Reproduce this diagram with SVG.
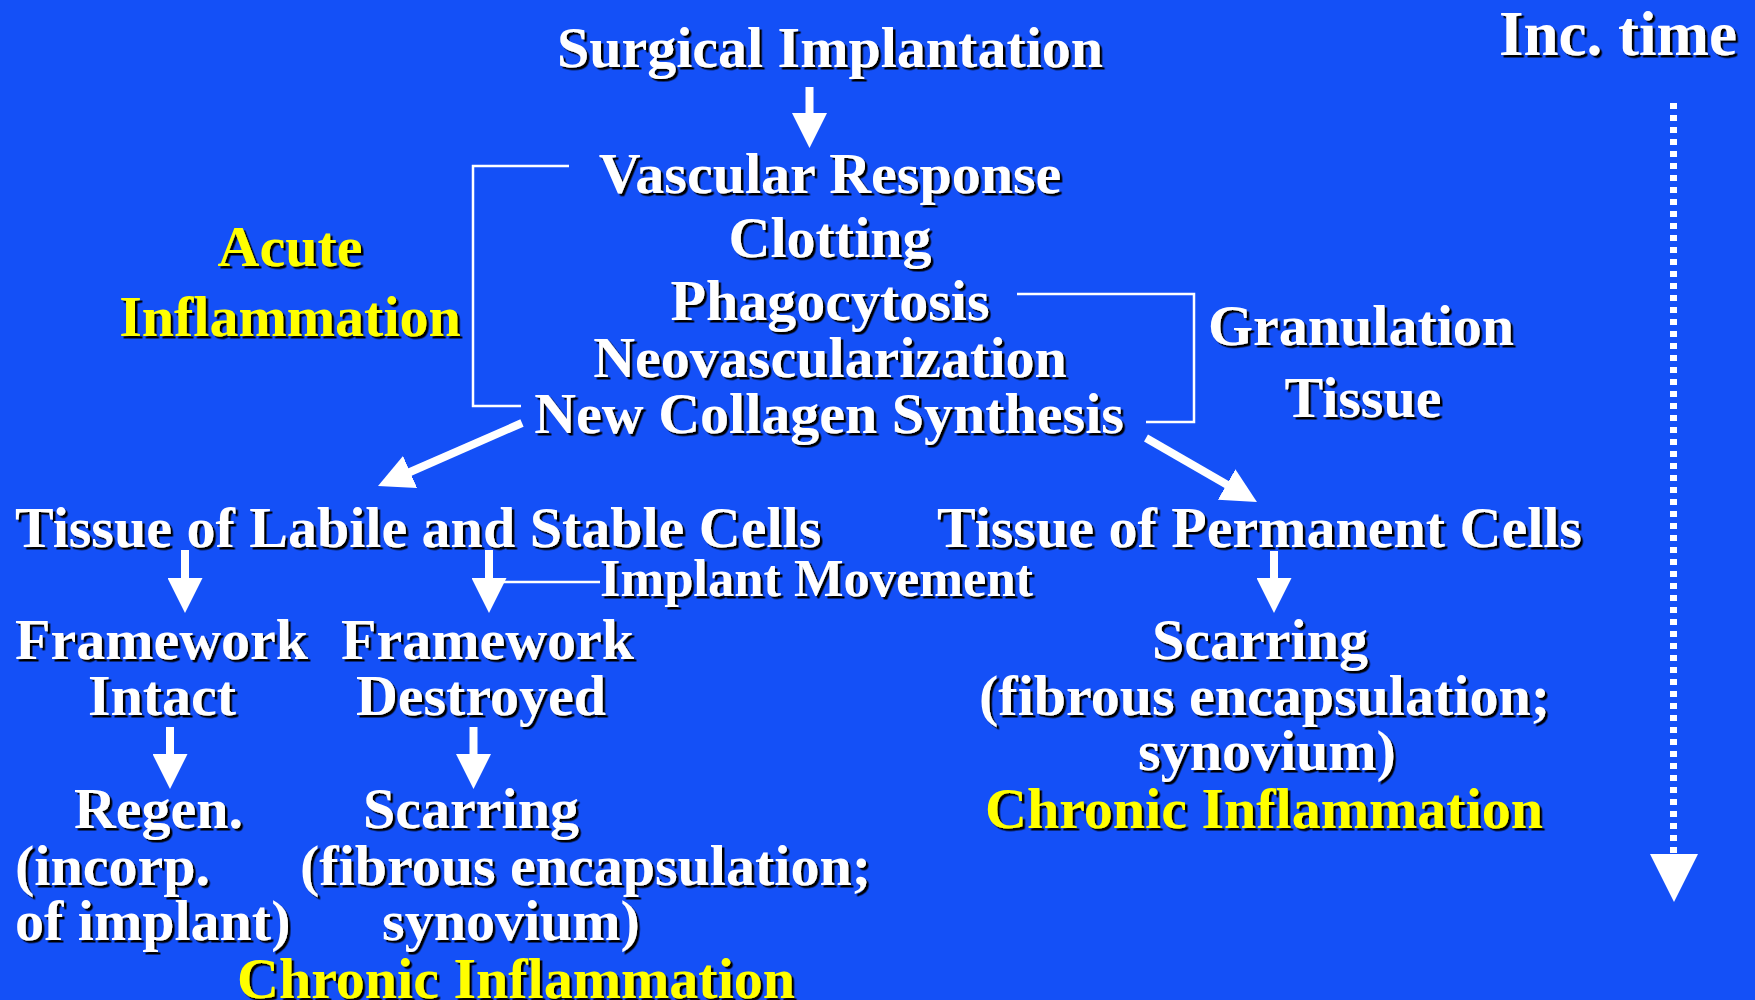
<svg xmlns="http://www.w3.org/2000/svg" width="1755" height="1000" viewBox="0 0 1755 1000">
  <defs>
    <style>
      text { font-family: "Liberation Serif", "Times New Roman", serif; font-weight: bold; font-size: 58px; fill: #ffffff; }
      .y { fill: #ffff00; }
      .c { text-anchor: middle; }
      .lbl { filter: url(#sh); }
      .arrow { stroke: #ffffff; stroke-width: 8; fill: none; marker-end: url(#ah); }
      .br { stroke: #ffffff; stroke-width: 2.5; fill: none; }
    </style>
    <filter id="sh" x="-5%" y="-20%" width="110%" height="140%">
      <feDropShadow dx="2.5" dy="2.5" stdDeviation="0" flood-color="#000000" flood-opacity="1"/>
    </filter>
    <marker id="ah" viewBox="0 0 35 35" markerUnits="userSpaceOnUse" markerWidth="35" markerHeight="35" refX="10" refY="17.5" orient="auto">
      <path d="M0,0 L35,17.5 L0,35 z" fill="#ffffff"/>
    </marker>
  </defs>
  <rect x="0" y="0" width="1755" height="1000" fill="#1450F7"/>

  <g id="connectors">
    <line class="arrow" x1="809.5" y1="87" x2="809.5" y2="123"/>
    <line class="arrow" x1="522" y1="423" x2="400.9" y2="476"/>
    <line class="arrow" x1="1146" y1="438" x2="1235.3" y2="489.5"/>
    <line class="arrow" x1="185" y1="550" x2="185" y2="588"/>
    <line class="arrow" x1="489" y1="550" x2="489" y2="588"/>
    <line class="arrow" x1="1274" y1="551" x2="1274" y2="588"/>
    <line class="arrow" x1="170" y1="727" x2="170" y2="764"/>
    <line class="arrow" x1="473.5" y1="727" x2="473.5" y2="764"/>
    <line class="br" x1="492" y1="582" x2="600" y2="582"/>
    <polyline class="br" points="569,166 473,166 473,406 521,406"/>
    <polyline class="br" points="1017,294 1194,294 1194,422 1146,422"/>
    <line x1="1673.5" y1="103" x2="1673.5" y2="856" stroke="#ffffff" stroke-width="7" stroke-dasharray="6 6"/>
    <polygon points="1650,854 1698,854 1674,902" fill="#ffffff"/>
  </g>

  <g class="lbl">
    <g id="surgical"><text class="c" x="830" y="67">Surgical Implantation</text></g>
    <g id="inc-time"><text x="1499" y="55" style="font-size:63px">Inc. time</text></g>
    <g id="acute-phase">
      <text class="c" x="830" y="193">Vascular Response</text>
      <text class="c" x="830" y="257">Clotting</text>
      <text class="c" x="830" y="320">Phagocytosis</text>
      <text class="c" x="830" y="377">Neovascularization</text>
      <text class="c" x="829" y="433">New Collagen Synthesis</text>
    </g>
    <g id="acute-inflammation">
      <text class="c y" x="290" y="266">Acute</text>
      <text class="c y" x="290" y="336">Inflammation</text>
    </g>
    <g id="granulation-tissue">
      <text class="c" x="1361" y="345">Granulation</text>
      <text class="c" x="1363" y="417">Tissue</text>
    </g>
    <g id="labile-stable"><text x="15" y="547">Tissue of Labile and Stable Cells</text></g>
    <g id="permanent"><text x="937" y="547">Tissue of Permanent Cells</text></g>
    <g id="implant-movement"><text x="600" y="596" style="font-size:52.5px">Implant Movement</text></g>
    <g id="framework-intact">
      <text x="15" y="659">Framework</text>
      <text class="c" x="162" y="715">Intact</text>
    </g>
    <g id="framework-destroyed">
      <text x="341" y="659">Framework</text>
      <text class="c" x="481" y="715">Destroyed</text>
    </g>
    <g id="regen">
      <text class="c" x="158.5" y="828">Regen.</text>
      <text x="15" y="885">(incorp.</text>
      <text x="15" y="940">of implant)</text>
    </g>
    <g id="scarring-left">
      <text class="c" x="471" y="828">Scarring</text>
      <text x="300" y="885">(fibrous encapsulation;</text>
      <text class="c" x="511" y="940">synovium)</text>
      <text class="y" x="237" y="998">Chronic Inflammation</text>
    </g>
    <g id="scarring-right">
      <text class="c" x="1260" y="659">Scarring</text>
      <text x="979" y="715">(fibrous encapsulation;</text>
      <text class="c" x="1267" y="770">synovium)</text>
      <text x="985" y="828" class="y">Chronic Inflammation</text>
    </g>
  </g>
</svg>
